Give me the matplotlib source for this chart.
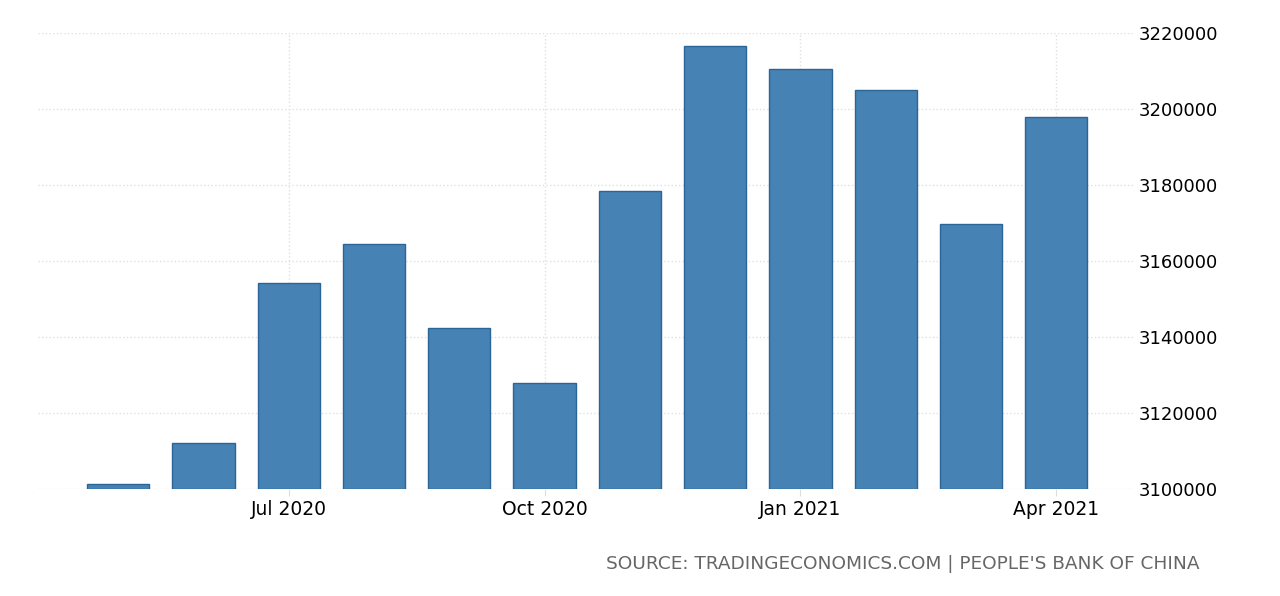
import matplotlib.pyplot as plt
import numpy as np

# Mes a mes, mayo 2020 - abril 2021
months = ['May 2020', 'Jun 2020', 'Jul 2020', 'Aug 2020', 'Sep 2020', 'Oct 2020',
          'Nov 2020', 'Dec 2020', 'Jan 2021', 'Feb 2021', 'Mar 2021', 'Apr 2021']
values = [3101300, 3112100, 3154200, 3164500, 3142400, 3127900,
          3178400, 3216600, 3210500, 3205000, 3169700, 3197900]
tick_labels = ['Jul 2020', 'Oct 2020', 'Jan 2021', 'Apr 2021']
y_ticks = [3100000, 3120000, 3140000, 3160000, 3180000, 3200000, 3220000]
source = "SOURCE: TRADINGECONOMICS.COM | PEOPLE'S BANK OF CHINA"

fig = plt.figure(figsize=(12.8, 5.96), dpi=100)
ax = fig.add_axes([38 / 1280, 107 / 596, (1133 - 38) / 1280, (489 - 33) / 596])

x = np.arange(len(months))
ax.bar(x, np.array(values) - y_ticks[0], bottom=y_ticks[0], width=0.73,
       color='#4682b4', edgecolor='#2a6596', linewidth=1.0, zorder=3)

ax.set_xlim(-0.94, 11.9)
ax.set_ylim(y_ticks[0], y_ticks[-1])

tick_pos = [months.index(t) for t in tick_labels]
ax.set_xticks(tick_pos)
ax.set_xticklabels(tick_labels, fontsize=13.5)
ax.set_yticks(y_ticks)
ax.set_yticklabels([str(v) for v in y_ticks], fontsize=13)
ax.yaxis.tick_right()
ax.tick_params(axis='y', length=0, pad=4)
ax.tick_params(axis='x', length=5, color='#dddddd', pad=3)

ax.grid(True, color='#e0e0e0', linestyle=':', linewidth=1.0, zorder=0)
for s in ax.spines.values():
    s.set_visible(False)

fig.text(1200 / 1280, 1 - 569 / 596, source, ha='right', va='baseline',
         fontsize=13.3, color='#666666')

fig.savefig('out.png', dpi=100)
